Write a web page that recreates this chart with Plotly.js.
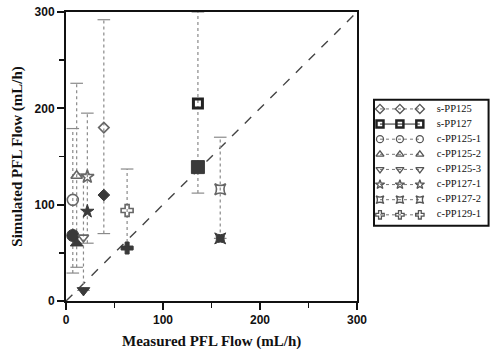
<!DOCTYPE html>
<html>
<head>
<meta charset="utf-8">
<script src="https://cdn.plot.ly/plotly-3.0.1.min.js"></script>
<style>html,body{margin:0;padding:0;background:#fff;}#chart{width:491px;height:349px;}</style>
</head>
<body>
<div id="chart"></div>
<script>
// ---- data ----
const seriesNames = ["s-PP125", "s-PP127", "c-PP125-1", "c-PP125-2", "c-PP125-3", "c-PP127-1", "c-PP127-2", "c-PP129-1"];
const measured    = [39, 136, 7, 11, 18, 22, 159, 63];
const simulatedA  = [180, 205, 105, 130, 66, 129, 116, 94];   // open markers
const simulatedB  = [110, 139, 68, 60, 11, 93, 65, 55];       // filled markers
const rangeHigh   = [292, 300, 179, 226, 132, 195, 170, 137];
const rangeLow    = [70, 112, 29, 35, 11, 60, 65, 55];
const xTicks = [0, 100, 200, 300];
const yTicks = [0, 100, 200, 300];
const xTitle = "Measured PFL Flow (mL/h)";
const yTitle = "Simulated PFL Flow (mL/h)";

// ---- styles ----
const openSymbols   = ["diamond-open", "square-open", "circle-open", "triangle-up-open", "triangle-down-open", "star-open", "star-square-open", "cross-open"];
const filledSymbols = ["diamond", "square", "circle", "triangle-up", "triangle-down", "star", "star-square", "cross"];
const openSizes   = [8, 9, 11, 10, 9, 10, 10, 10];
const filledSizes = [9, 13, 12, 11, 11, 10, 10, 10];
const legendDash  = ["dot", "solid", "dot", "dot", "dot", "dot", "dot", "dot"];
const openColor = "#666", filledColor = "#3a3a3a", errColor = "#8a8a8a";

const traces = [];
// identity line
traces.push({x: [xTicks[0], xTicks[xTicks.length-1]], y: [yTicks[0], yTicks[yTicks.length-1]], mode: "lines",
  line: {color: "#444", width: 1.4, dash: "dash"}, hoverinfo: "skip", showlegend: false});

seriesNames.forEach((name, i) => {
  traces.push({x: [measured[i], measured[i]], y: [rangeLow[i], rangeHigh[i]], mode: "lines+markers",
    line: {color: errColor, width: 1.2, dash: "dot"},
    marker: {symbol: "line-ew-open", size: 9, line: {color: errColor, width: 1.2}},
    showlegend: false, hoverinfo: "skip", cliponaxis: false});
});
seriesNames.forEach((name, i) => {
  traces.push({x: [measured[i]], y: [simulatedA[i]], mode: "markers", name: name, showlegend: false,
    marker: {symbol: openSymbols[i], size: openSizes[i], color: i === 1 ? "#222" : openColor,
      line: {color: i === 1 ? "#222" : openColor, width: i === 1 ? 3 : 1.6}}});
  traces.push({x: [measured[i]], y: [simulatedB[i]], mode: "markers", name: name, showlegend: false,
    marker: {symbol: filledSymbols[i], size: filledSizes[i], color: filledColor, line: {color: filledColor, width: 1}}});
});

// legend samples drawn on a secondary axis pair
const legendX = [0, 1, 2];
seriesNames.forEach((name, i) => {
  traces.push({x: legendX, y: legendX.map(() => i), xaxis: "x2", yaxis: "y2", mode: "lines+markers",
    line: {color: i === 1 ? "#222" : "#777", width: 1, dash: legendDash[i]},
    marker: {symbol: openSymbols[i], size: 7, color: i === 1 ? "#222" : "#555",
      line: {color: i === 1 ? "#222" : "#555", width: i === 1 ? 2.5 : 1.3}},
    showlegend: false, hoverinfo: "skip", cliponaxis: false});
});
traces.push({x: seriesNames.map(() => 2.85), y: seriesNames.map((n, i) => i), xaxis: "x2", yaxis: "y2",
  mode: "text", text: seriesNames, textposition: "middle right", cliponaxis: false,
  textfont: {family: "Liberation Serif, serif", size: 10.5, color: "#111"}, showlegend: false, hoverinfo: "skip"});

const titleFont = {family: "Liberation Serif, serif", size: 15, weight: "bold", color: "#111"};
const axisCommon = {
  showline: true, linecolor: "#111", linewidth: 2, mirror: true, showgrid: false, zeroline: false,
  ticks: "outside", ticklen: 7, tickwidth: 2, tickcolor: "#111",
  tickfont: {family: "Liberation Sans, Arial, sans-serif", size: 12, weight: "bold", color: "#111"},
  minor: {ticks: "outside", ticklen: 5, tickwidth: 1.5, tickcolor: "#111", dtick: 50}
};

// paper width = 491 - 66 - 2 = 423 ; plot spans 291 px
const W = 423;
const legX0 = (374 - 66) / W, legX1 = 0.999;
const legY0 = 0.26, legY1 = 0.696;

const layout = {
  width: 491, height: 349, showlegend: false,
  margin: {l: 66, r: 2, t: 12, b: 48},
  paper_bgcolor: "#fff", plot_bgcolor: "rgba(0,0,0,0)",
  xaxis: Object.assign({}, axisCommon, {domain: [0, 291 / W], range: [0, 300], tickvals: xTicks}),
  yaxis: Object.assign({}, axisCommon, {range: [0, 300], tickvals: yTicks,
    title: {text: yTitle, font: titleFont, standoff: 8}}),
  xaxis2: {domain: [(377 - 66) / W, legX1], range: [-0.15, 5.45], anchor: "y2", visible: false, fixedrange: true},
  yaxis2: {domain: [legY0, legY1], range: [7.73, -0.6], anchor: "x2", visible: false, fixedrange: true},
  annotations: [{text: xTitle, xref: "paper", yref: "paper", x: 145.5 / W, y: -0.141,
    xanchor: "center", yanchor: "middle", showarrow: false, font: titleFont}],
  shapes: [{type: "rect", xref: "paper", yref: "paper", x0: legX0, x1: legX1, y0: legY0, y1: legY1,
    line: {color: "#111", width: 2}, fillcolor: "rgba(0,0,0,0)"}]
};

Plotly.newPlot("chart", traces, layout, {staticPlot: true, displayModeBar: false});
</script>
</body>
</html>
